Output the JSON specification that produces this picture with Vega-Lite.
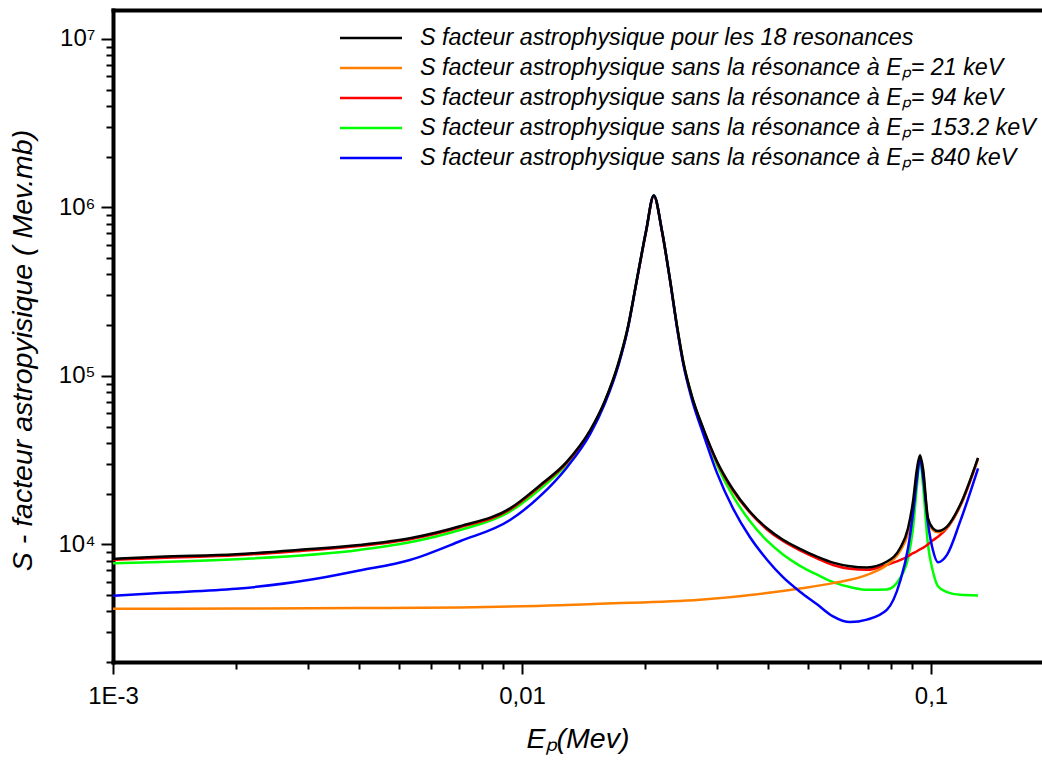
{
  "$schema": "https://vega.github.io/schema/vega-lite/v6.json",
  "width": 929,
  "height": 652,
  "autosize": {"type": "none"},
  "padding": {"left": 113, "top": 10, "right": 0, "bottom": 99},
  "background": "white",
  "config": {
    "view": {"stroke": null},
    "font": "Liberation Sans",
    "axis": {"labelFont": "Liberation Sans", "titleFont": "Liberation Sans", "labelColor": "black", "titleColor": "black", "domainColor": "black", "tickColor": "black", "grid": false},
    "legend": {"labelFont": "Liberation Sans"}
  },
  "datasets": {
    "curves": [
      {"s":"d","x":0.001,"y":7720},{"s":"d","x":0.002,"y":8150},{"s":"d","x":0.004,"y":9250},{"s":"d","x":0.00532,"y":10280},{"s":"d","x":0.00705,"y":12150},{"s":"d","x":0.00935,"y":15670},{"s":"d","x":0.01107,"y":21300},{"s":"d","x":0.01286,"y":29900},{"s":"d","x":0.01467,"y":46800},{"s":"d","x":0.01596,"y":70900},{"s":"d","x":0.0172,"y":118000},{"s":"d","x":0.0181,"y":188900},{"s":"d","x":0.01905,"y":362400},{"s":"d","x":0.0201,"y":721000},{"s":"d","x":0.021,"y":1178000},{"s":"d","x":0.022,"y":721000},{"s":"d","x":0.023,"y":375000},{"s":"d","x":0.024,"y":189700},{"s":"d","x":0.0248,"y":120500},{"s":"d","x":0.026,"y":76000},{"s":"d","x":0.02776,"y":47500},{"s":"d","x":0.02992,"y":29900},{"s":"d","x":0.03281,"y":19300},{"s":"d","x":0.0361,"y":13700},{"s":"d","x":0.03972,"y":10500},{"s":"d","x":0.04346,"y":8700},{"s":"d","x":0.04783,"y":7450},{"s":"d","x":0.05264,"y":6600},{"s":"d","x":0.0576,"y":5960},{"s":"d","x":0.06339,"y":5570},{"s":"d","x":0.06973,"y":5370},{"s":"d","x":0.07807,"y":5390},{"s":"d","x":0.084,"y":6290},{"s":"d","x":0.08787,"y":8260},{"s":"d","x":0.09036,"y":12440},{"s":"d","x":0.09242,"y":22430},{"s":"d","x":0.094,"y":32300},{"s":"d","x":0.09559,"y":22430},{"s":"d","x":0.09832,"y":9900},{"s":"d","x":0.1011,"y":6890},{"s":"d","x":0.104,"y":5640},{"s":"d","x":0.1094,"y":5200},{"s":"d","x":0.1178,"y":5010},{"s":"d","x":0.1303,"y":4970},

      {"s":"c","x":0.001,"y":8070},{"s":"c","x":0.0013,"y":8300},{"s":"c","x":0.002,"y":8600},{"s":"c","x":0.00287,"y":9130},{"s":"c","x":0.004,"y":9750},{"s":"c","x":0.00532,"y":10700},{"s":"c","x":0.00705,"y":12600},{"s":"c","x":0.00935,"y":16100},{"s":"c","x":0.01107,"y":22100},{"s":"c","x":0.01286,"y":30400},{"s":"c","x":0.01467,"y":46800},{"s":"c","x":0.01596,"y":70500},{"s":"c","x":0.0172,"y":117000},{"s":"c","x":0.0181,"y":186500},{"s":"c","x":0.01905,"y":358000},{"s":"c","x":0.0201,"y":712000},{"s":"c","x":0.021,"y":1165000},{"s":"c","x":0.022,"y":712000},{"s":"c","x":0.023,"y":370000},{"s":"c","x":0.024,"y":187000},{"s":"c","x":0.0248,"y":119000},{"s":"c","x":0.026,"y":75300},{"s":"c","x":0.02776,"y":47900},{"s":"c","x":0.02992,"y":30900},{"s":"c","x":0.03281,"y":20800},{"s":"c","x":0.0361,"y":15400},{"s":"c","x":0.03972,"y":12250},{"s":"c","x":0.04346,"y":10450},{"s":"c","x":0.04783,"y":9200},{"s":"c","x":0.05264,"y":8250},{"s":"c","x":0.0576,"y":7530},{"s":"c","x":0.06339,"y":7150},{"s":"c","x":0.06973,"y":7060},{"s":"c","x":0.07807,"y":7550},{"s":"c","x":0.084,"y":8040},{"s":"c","x":0.08787,"y":8490},{"s":"c","x":0.09036,"y":8850},{"s":"c","x":0.09242,"y":9090},{"s":"c","x":0.094,"y":9330},{"s":"c","x":0.09559,"y":9520},{"s":"c","x":0.09832,"y":10000},{"s":"c","x":0.1011,"y":10570},{"s":"c","x":0.104,"y":11080},{"s":"c","x":0.1094,"y":12440},{"s":"c","x":0.1178,"y":16800},{"s":"c","x":0.1303,"y":32200},

      {"s":"b","x":0.001,"y":4140},{"s":"b","x":0.002,"y":4150},{"s":"b","x":0.004,"y":4180},{"s":"b","x":0.00705,"y":4220},{"s":"b","x":0.01239,"y":4340},{"s":"b","x":0.0155,"y":4430},{"s":"b","x":0.02724,"y":4680},{"s":"b","x":0.03972,"y":5130},{"s":"b","x":0.04783,"y":5460},{"s":"b","x":0.0576,"y":5880},{"s":"b","x":0.06973,"y":6580},{"s":"b","x":0.07807,"y":7550},{"s":"b","x":0.084,"y":9090},{"s":"b","x":0.08787,"y":11620},{"s":"b","x":0.09036,"y":16330},{"s":"b","x":0.09242,"y":26300},{"s":"b","x":0.094,"y":33200},{"s":"b","x":0.09559,"y":27400},{"s":"b","x":0.09832,"y":14060},{"s":"b","x":0.1011,"y":12150},{"s":"b","x":0.104,"y":11780},{"s":"b","x":0.1094,"y":12600},{"s":"b","x":0.1178,"y":17000},{"s":"b","x":0.1303,"y":32300},

      {"s":"e","x":0.001,"y":4940},{"s":"e","x":0.0013,"y":5130},{"s":"e","x":0.002,"y":5440},{"s":"e","x":0.00303,"y":6150},{"s":"e","x":0.004,"y":6990},{"s":"e","x":0.00532,"y":8070},{"s":"e","x":0.00705,"y":10420},{"s":"e","x":0.00935,"y":13930},{"s":"e","x":0.01107,"y":19300},{"s":"e","x":0.01286,"y":28500},{"s":"e","x":0.01467,"y":45000},{"s":"e","x":0.01596,"y":69000},{"s":"e","x":0.0172,"y":115000},{"s":"e","x":0.0181,"y":185000},{"s":"e","x":0.01905,"y":360000},{"s":"e","x":0.0201,"y":721000},{"s":"e","x":0.021,"y":1178000},{"s":"e","x":0.022,"y":721000},{"s":"e","x":0.023,"y":372000},{"s":"e","x":0.024,"y":185000},{"s":"e","x":0.0248,"y":117000},{"s":"e","x":0.026,"y":73000},{"s":"e","x":0.02776,"y":45000},{"s":"e","x":0.02992,"y":26800},{"s":"e","x":0.03281,"y":16300},{"s":"e","x":0.0361,"y":11000},{"s":"e","x":0.03972,"y":8100},{"s":"e","x":0.04346,"y":6380},{"s":"e","x":0.04783,"y":5230},{"s":"e","x":0.05264,"y":4400},{"s":"e","x":0.0576,"y":3730},{"s":"e","x":0.06339,"y":3450},{"s":"e","x":0.06973,"y":3570},{"s":"e","x":0.07807,"y":4090},{"s":"e","x":0.084,"y":6010},{"s":"e","x":0.08787,"y":9470},{"s":"e","x":0.09036,"y":15240},{"s":"e","x":0.09242,"y":24600},{"s":"e","x":0.094,"y":32300},{"s":"e","x":0.09559,"y":25240},{"s":"e","x":0.09832,"y":13310},{"s":"e","x":0.1011,"y":9210},{"s":"e","x":0.104,"y":7820},{"s":"e","x":0.1094,"y":8650},{"s":"e","x":0.1178,"y":13620},{"s":"e","x":0.1303,"y":28180},

      {"s":"a","x":0.001,"y":8190},{"s":"a","x":0.0013,"y":8430},{"s":"a","x":0.002,"y":8730},{"s":"a","x":0.00287,"y":9270},{"s":"a","x":0.004,"y":9900},{"s":"a","x":0.00532,"y":10860},{"s":"a","x":0.00705,"y":12790},{"s":"a","x":0.00935,"y":16330},{"s":"a","x":0.01107,"y":22430},{"s":"a","x":0.01286,"y":30850},{"s":"a","x":0.01467,"y":47450},{"s":"a","x":0.01596,"y":71450},{"s":"a","x":0.0172,"y":118600},{"s":"a","x":0.0181,"y":188900},{"s":"a","x":0.01905,"y":362400},{"s":"a","x":0.0201,"y":721000},{"s":"a","x":0.021,"y":1178000},{"s":"a","x":0.022,"y":721000},{"s":"a","x":0.023,"y":375000},{"s":"a","x":0.024,"y":189700},{"s":"a","x":0.0248,"y":120500},{"s":"a","x":0.026,"y":76440},{"s":"a","x":0.02776,"y":48560},{"s":"a","x":0.02992,"y":31330},{"s":"a","x":0.03281,"y":21130},{"s":"a","x":0.0361,"y":15600},{"s":"a","x":0.03972,"y":12450},{"s":"a","x":0.04346,"y":10640},{"s":"a","x":0.04783,"y":9400},{"s":"a","x":0.05264,"y":8440},{"s":"a","x":0.0576,"y":7780},{"s":"a","x":0.06339,"y":7410},{"s":"a","x":0.06973,"y":7290},{"s":"a","x":0.07807,"y":7900},{"s":"a","x":0.084,"y":9470},{"s":"a","x":0.08787,"y":12440},{"s":"a","x":0.09036,"y":17960},{"s":"a","x":0.09242,"y":28180},{"s":"a","x":0.094,"y":33750},{"s":"a","x":0.09559,"y":28180},{"s":"a","x":0.09832,"y":14260},{"s":"a","x":0.1011,"y":12440},{"s":"a","x":0.104,"y":11990},{"s":"a","x":0.1094,"y":12730},{"s":"a","x":0.1178,"y":17090},{"s":"a","x":0.1303,"y":32590}
    ]
  },
  "data": {"name": "curves"},
  "layer": [
    {
      "mark": {"type": "line", "strokeWidth": 2.5, "interpolate": "monotone", "clip": true},
      "encoding": {
        "x": {
          "field": "x", "type": "quantitative",
          "scale": {"type": "log", "domain": [0.001, 0.1868], "nice": false},
          "axis": {
            "orient": "bottom",
            "values": [0.001,0.002,0.003,0.004,0.005,0.006,0.007,0.008,0.009,0.01,0.02,0.03,0.04,0.05,0.06,0.07,0.08,0.09,0.1],
            "labelExpr": "datum.value == 0.001 ? '1E-3' : datum.value == 0.01 ? '0,01' : datum.value == 0.1 ? '0,1' : ''",
            "labelOverlap": false, "labelFlush": false, "labelBound": false,
            "labelFontSize": 24, "labelPadding": 10,
            "tickSize": {"condition": {"test": "indexof([0.001,0.01,0.1], datum.value) >= 0", "value": 12}, "value": 7},
            "tickWidth": 2, "domainWidth": 4, "domainCap": "square",
            "title": "Eₚ(Mev)", "titleFontSize": 28.5, "titleFontStyle": "italic", "titleFontWeight": "normal", "titlePadding": 16
          }
        },
        "y": {
          "field": "y", "type": "quantitative",
          "scale": {"type": "log", "domain": [2000, 14860000], "nice": false},
          "axis": {
            "orient": "left",
            "values": [2000,3000,4000,5000,6000,7000,8000,9000,10000,20000,30000,40000,50000,60000,70000,80000,90000,100000,200000,300000,400000,500000,600000,700000,800000,900000,1000000,2000000,3000000,4000000,5000000,6000000,7000000,8000000,9000000,10000000],
            "labelExpr": "datum.value == 10000 ? '10⁴' : datum.value == 100000 ? '10⁵' : datum.value == 1000000 ? '10⁶' : datum.value == 10000000 ? '10⁷' : ''",
            "labelOverlap": false, "labelFlush": false, "labelBound": false,
            "labelFontSize": 24, "labelPadding": 6,
            "tickSize": {"condition": {"test": "indexof([10000,100000,1000000,10000000], datum.value) >= 0", "value": 12}, "value": 7},
            "tickWidth": 2, "domainWidth": 4, "domainCap": "square",
            "title": "S - facteur astropyisique ( Mev.mb)", "titleFontSize": 28.5, "titleFontStyle": "italic", "titleFontWeight": "normal",
            "titleX": -76, "titleY": 340, "titleAngle": -90, "titleBaseline": "bottom", "titleAlign": "center"
          }
        },
        "color": {
          "field": "s", "type": "nominal",
          "scale": {"domain": ["a","b","c","d","e"], "range": ["#000000","#FF8000","#FF0000","#00FF00","#0000FF"]},
          "legend": {
            "orient": "none", "legendX": 246, "legendY": 16, "padding": 0,
            "title": null,
            "symbolType": "M-3,0H3", "symbolSize": 427, "symbolStrokeWidth": 2.5,
            "labelOffset": 37, "labelFontSize": 23.3, "labelFontStyle": "italic", "labelColor": "black", "labelLimit": 0,
            "rowPadding": 6,
            "labelExpr": "datum.label == 'a' ? 'S facteur astrophysique pour les 18 resonances' : datum.label == 'b' ? 'S facteur astrophysique sans la résonance à Eₚ= 21 keV' : datum.label == 'c' ? 'S facteur astrophysique sans la résonance à Eₚ= 94 keV' : datum.label == 'd' ? 'S facteur astrophysique sans la résonance à Eₚ= 153.2 keV' : 'S facteur astrophysique sans la résonance à Eₚ= 840 keV'"
          }
        }
      }
    },
    {
      "mark": {"type": "point", "opacity": 0},
      "encoding": {
        "x": {"field": "x", "type": "quantitative", "axis": {"orient": "top", "ticks": false, "labels": false, "title": null, "domainWidth": 4, "domainCap": "square"}},
        "y": {"field": "y", "type": "quantitative"}
      }
    }
  ],
  "resolve": {"axis": {"x": "independent"}}
}
